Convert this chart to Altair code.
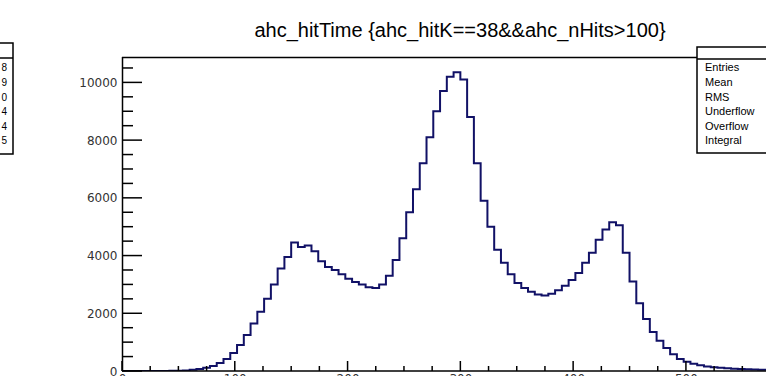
import altair as alt
import pandas as pd

# ---- histogram definition (100 bins from 0 to 600) ----
x_lo = 0
x_hi = 600
n_bins = 100
counts = [0, 0, 0, 0, 0, 0, 0, 5, 10, 20,
          40, 70, 110, 170, 280, 420, 620, 900, 1250, 1650,
          2050, 2500, 3000, 3550, 3950, 4450, 4300, 4350, 4150, 3800,
          3600, 3500, 3350, 3200, 3080, 3000, 2900, 2880, 3000, 3300,
          3850, 4600, 5500, 6300, 7200, 8100, 9000, 9700, 10200, 10350,
          10100, 8800, 7200, 5900, 5000, 4200, 3750, 3350, 3050, 2880,
          2750, 2650, 2620, 2680, 2800, 2950, 3150, 3400, 3750, 4100,
          4550, 4900, 5150, 5050, 4100, 3100, 2350, 1800, 1350, 1050,
          800, 580, 420, 320, 250, 200, 160, 130, 110, 95,
          80, 70, 60, 50, 45, 40, 35, 30, 25, 20]

x_major = [0, 100, 200, 300, 400, 500]
x_minor = [25, 50, 75, 125, 150, 175, 225, 250, 275, 325, 350, 375,
           425, 450, 475, 525, 550]
y_major = [0, 2000, 4000, 6000, 8000, 10000]
y_minor = [500, 1000, 1500, 2500, 3000, 3500, 4500, 5000, 5500,
           6500, 7000, 7500, 8500, 9000, 9500, 10500]

title_text = "ahc_hitTime {ahc_hitK==38&&ahc_nHits>100}"
stat_names = ["Entries", "Mean", "RMS", "Underflow", "Overflow", "Integral"]
left_box_tail = ["8", "9", "0", "4", "4", "5"]

# ---- build tables ----
bw = (x_hi - x_lo) / n_bins
edges = [x_lo + i * bw for i in range(n_bins + 1)]
df_hist = pd.DataFrame({"x": edges, "y": counts + [counts[-1]]})

W, H = 644, 314
xs = alt.Scale(domain=[0, 571], nice=False, zero=False)
ys = alt.Scale(domain=[0, 10880], nice=False)
FRAME = "black"
LW = 1.5

x_axis = alt.Axis(values=x_major, format="d", labelPadding=2, labelFont="DejaVu Sans",
                  labelFontSize=12, labelColor="#333", ticks=False,
                  domain=False, grid=False, labelFlush=False, title=None)
y_axis = alt.Axis(values=y_major, format="d", labelPadding=5, labelFont="DejaVu Sans",
                  labelFontSize=12, labelColor="#333", ticks=False,
                  domain=False, grid=False, labelFlush=False, title=None)

hist = alt.Chart(df_hist).mark_line(
    interpolate="step-after", color="#111166", strokeWidth=2, clip=True
).encode(
    x=alt.X("x:Q", scale=xs, axis=x_axis),
    y=alt.Y("y:Q", scale=ys, axis=y_axis),
)

def yticks(vals, length):
    return alt.Chart(pd.DataFrame({"y": vals})).mark_rule(
        color=FRAME, strokeWidth=LW).encode(
        y=alt.Y("y:Q", scale=ys, axis=y_axis),
        x=alt.value(0), x2=alt.value(length))

def xticks(vals, length):
    return alt.Chart(pd.DataFrame({"x": vals})).mark_rule(
        color=FRAME, strokeWidth=LW).encode(
        x=alt.X("x:Q", scale=xs, axis=x_axis),
        y=alt.value(H), y2=alt.value(H - length))

dummy = pd.DataFrame({"d": [0]})

def hline(x1, x2, y, color=FRAME):
    return alt.Chart(dummy).mark_rule(color=color, strokeWidth=LW).encode(
        x=alt.value(x1), x2=alt.value(x2), y=alt.value(y))

def vline(x, y1, y2):
    return alt.Chart(dummy).mark_rule(color=FRAME, strokeWidth=LW).encode(
        x=alt.value(x), y=alt.value(y1), y2=alt.value(y2))

layers = [hist,
          yticks(y_major, 20), yticks(y_minor, 11),
          xticks(x_major, 10), xticks(x_minor, 5),
          hline(0, W, 0.5), vline(0.5, 0, H), hline(0, W, H)]

# stats box (right)
box_r = alt.Chart(dummy).mark_rect(fill="white", stroke=FRAME, strokeWidth=LW).encode(
    x=alt.value(575), x2=alt.value(760), y=alt.value(-10), y2=alt.value(96))
layers.append(box_r)
layers.append(hline(575, W, 2))

# stats box (left, from neighbouring pad)
box_l = alt.Chart(dummy).mark_rect(fill="white", stroke=FRAME, strokeWidth=LW).encode(
    x=alt.value(-140), x2=alt.value(-109), y=alt.value(-14), y2=alt.value(97))
layers.append(box_l)
layers.append(hline(-122, -109, 1))

row_y = [11, 26, 41, 55, 70, 84]
for name, ry in zip(stat_names, row_y):
    layers.append(alt.Chart(dummy).mark_text(
        text=name, align="left", baseline="middle", font="Liberation Sans",
        fontSize=11, color="black").encode(x=alt.value(583), y=alt.value(ry)))
for t, ry in zip(left_box_tail, row_y):
    layers.append(alt.Chart(dummy).mark_text(
        text=t, align="right", baseline="middle", font="Liberation Sans",
        fontSize=10, color="black").encode(x=alt.value(-115), y=alt.value(ry)))

layers.append(alt.Chart(dummy).mark_text(
    text=title_text, align="center", baseline="alphabetic", font="Liberation Sans",
    fontSize=20, color="black").encode(x=alt.value(338), y=alt.value(-20)))

chart = alt.layer(*layers).properties(
    width=W, height=H,
    autosize=alt.AutoSizeParams(type="none"),
    padding={"left": 122, "top": 57, "right": 0, "bottom": 5},
    background="white",
).configure_view(stroke=None)

chart.save("out.html", embed_options={"renderer": "svg", "actions": False})
